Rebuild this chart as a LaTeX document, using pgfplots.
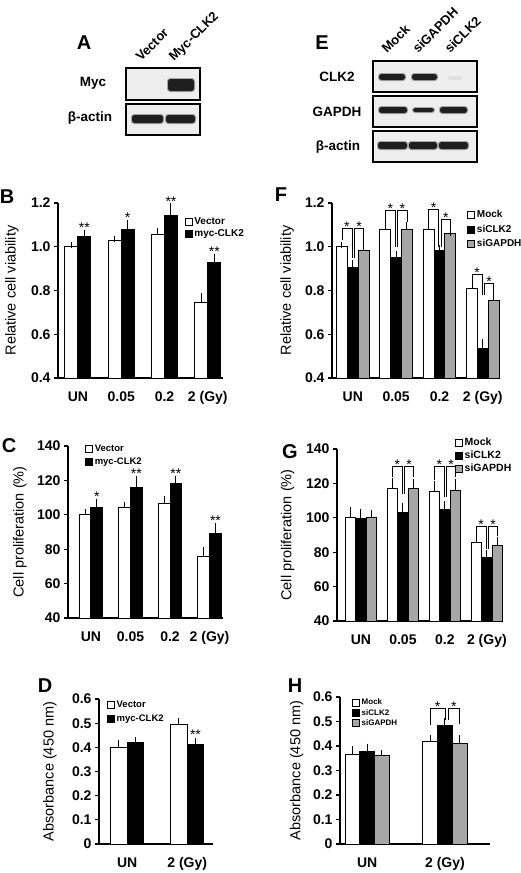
\documentclass[border=0pt]{standalone}
\usepackage{pgfplots}
\pgfplotsset{compat=1.18}
\usepackage{fontspec}
\setmainfont{Liberation Sans}
\definecolor{bargray}{RGB}{166,166,166}
\definecolor{blotbg}{RGB}{238,238,238}
\newcommand{\fs}[1]{\fontsize{#1}{#1}\selectfont}
\tikzset{star/.style={font=\fs{14}, anchor=base, inner sep=0pt}}
\pgfplotsset{
  panel/.style={
    scale only axis, anchor=south west,
    axis x line*=bottom, axis y line*=left,
    axis line style={line width=1.2pt},
    ybar=0pt,
    tick align=outside,
    major tick length=4pt,
    ytick style={line width=1.1pt, black},
    xtick style={draw=none},
    tick label style={font=\fs{14}\bfseries},
    xticklabel style={yshift=-6pt},
    /pgf/number format/assume math mode=true,
    ylabel style={font=\fs{14.5}, anchor=center},
    clip=false,
    legend image code/.code={\draw[#1,/tikz/.cd,line width=0.7pt,draw=black] (0pt,-3.5pt) rectangle (7pt,3.5pt);},
    legend cell align=left,
    legend style={draw=none, fill=none, anchor=north west, inner sep=0pt, outer sep=0pt},
    error bars/y dir=plus, error bars/y explicit,
    error bars/error bar style={line width=1pt, black},
    error bars/error mark options={mark size=3pt, line width=1pt, black},
  },
  wbar/.style={fill=white, draw=black, line width=1pt},
  kbar/.style={fill=black, draw=black, line width=1pt},
  gbar/.style={fill=bargray, draw=black, line width=1pt},
}
% bracket: x1 x2 top y1 y2 xmid
\newcommand{\brk}[6]{%
  \draw[line width=0.8pt] (axis cs:#1,#4) -- (axis cs:#1,#3) -- (axis cs:#2,#3) -- (axis cs:#2,#5);
  \node[star,yshift=-3pt] at (axis cs:#6,#3) {*};}
\newcommand{\band}[5][black!88]{% [color] x1 x2 y1 y2
  \fill[black!35,rounded corners=3pt] (#2-1,#4-1) rectangle (#3+1,#5+1);
  \fill[#1,rounded corners=2.5pt] (#2,#4) rectangle (#3,#5);}
\begin{document}
\begin{tikzpicture}
% ---------------- blots ----------------
\begin{scope}[x=1pt,y=-1pt]
  % panel A
  \node[font=\fs{20}\bfseries, inner sep=0pt] at (84,43) {A};
  \node[font=\fs{13.5}\bfseries, inner sep=0pt] at (93,83) {Myc};
  \node[font=\fs{13.5}\bfseries, inner sep=0pt] at (90,118) {β-actin};
  \node[font=\fs{13}\bfseries, inner sep=0pt, rotate=45, anchor=base west] at (141,62) {Vector};
  \node[font=\fs{13}\bfseries, inner sep=0pt, rotate=45, anchor=base west] at (174,62) {Myc-CLK2};
  \draw[line width=1.2pt, fill=blotbg] (126,68) rectangle (200,100);
  \draw[line width=1.2pt, fill=blotbg] (126,104) rectangle (200,135);
  \band{168}{194}{79}{91}
  \band{132}{163}{115}{123}
  \band{166}{195}{115}{123}
  % panel E
  \node[font=\fs{20}\bfseries, inner sep=0pt] at (322,43) {E};
  \node[font=\fs{13.5}\bfseries, inner sep=0pt] at (337,77) {CLK2};
  \node[font=\fs{13.5}\bfseries, inner sep=0pt] at (337,112) {GAPDH};
  \node[font=\fs{13.5}\bfseries, inner sep=0pt] at (338,147) {β-actin};
  \node[font=\fs{13}\bfseries, inner sep=0pt, rotate=45, anchor=base west] at (387,54) {Mock};
  \node[font=\fs{13}\bfseries, inner sep=0pt, rotate=45, anchor=base west] at (418,54) {siGAPDH};
  \node[font=\fs{13}\bfseries, inner sep=0pt, rotate=45, anchor=base west] at (450,54) {siCLK2};
  \draw[line width=1.2pt, fill=blotbg] (373,61) rectangle (477,92);
  \draw[line width=1.2pt, fill=blotbg] (373,96) rectangle (477,127);
  \draw[line width=1.2pt, fill=blotbg] (373,131) rectangle (477,162);
  \band{379}{405}{74}{80}
  \band{412}{437}{74}{80}
  \fill[black!12,rounded corners=2pt] (448,76) rectangle (462,80);
  \band{379}{407}{107}{113}
  \band{413}{434}{108}{112}
  \band{440}{467}{107}{113}
  \band{378}{407}{142}{149}
  \band{409}{437}{142}{149}
  \band{439}{468}{142}{149}
  % panel letters
  \node[font=\fs{20}\bfseries, inner sep=0pt] at (7,197) {B};
  \node[font=\fs{20}\bfseries, inner sep=0pt] at (281,195) {F};
  \node[font=\fs{20}\bfseries, inner sep=0pt] at (9,446) {C};
  \node[font=\fs{20}\bfseries, inner sep=0pt] at (290,452) {G};
  \node[font=\fs{20}\bfseries, inner sep=0pt] at (45,686) {D};
  \node[font=\fs{20}\bfseries, inner sep=0pt] at (295,686) {H};
\end{scope}

% ---------------- B ----------------
\begin{axis}[panel, at={(58pt,-378pt)}, width=164.5pt, height=175pt,
  xmin=-0.46, xmax=3.34, ymin=0.4, ymax=1.2, bar width=0.3,
  ytick={0.4,0.6,0.8,1.0,1.2},
  yticklabel style={/pgf/number format/.cd, fixed, fixed zerofill, precision=1},
  xtick={0,1,2,3}, xticklabels={UN,0.05,0.2,2 (Gy)},
  ylabel={Relative cell viability},
  ylabel style={at={(axis description cs:-0.28,0.5)}},
  legend style={at={(axis description cs:0.77,0.93)}, font=\fs{10}\bfseries, row sep=0pt}]
\addplot[wbar] coordinates {(0,1.00) +- (0,0.006) (1,1.03) +- (0,0.007) (2,1.055) +- (0,0.015) (3,0.745) +- (0,0.028)};
\addplot[kbar] coordinates {(0,1.045) +- (0,0.02) (1,1.08) +- (0,0.03) (2,1.145) +- (0,0.04) (3,0.93) +- (0,0.025)};
\legend{Vector, myc-CLK2}
\node[star] at (axis cs:0.15,1.065) {**};
\node[star] at (axis cs:1.15,1.11) {*};
\node[star] at (axis cs:2.15,1.185) {**};
\node[star] at (axis cs:3.15,0.955) {**};
\end{axis}

% ---------------- F ----------------
\begin{axis}[panel, at={(332pt,-378pt)}, width=166pt, height=175pt,
  xmin=-0.48, xmax=3.35, ymin=0.4, ymax=1.2, bar width=0.25,
  ytick={0.4,0.6,0.8,1.0,1.2},
  yticklabel style={/pgf/number format/.cd, fixed, fixed zerofill, precision=1},
  xtick={0,1,2,3}, xticklabels={UN,0.05,0.2,2 (Gy)},
  ylabel={Relative cell viability},
  ylabel style={at={(axis description cs:-0.27,0.5)}},
  legend style={at={(axis description cs:0.815,0.97)}, font=\fs{10}\bfseries, row sep=2pt}]
\addplot[wbar] coordinates {(0,1.00) +- (0,0.01) (1,1.08) +- (0,0.03) (2,1.08) +- (0,0.035) (3,0.81) +- (0,0.02)};
\addplot[kbar] coordinates {(0,0.905) +- (0,0.02) (1,0.95) +- (0,0.015) (2,0.985) +- (0,0.01) (3,0.535) +- (0,0.03)};
\addplot[gbar] coordinates {(0,0.985) +- (0,0.035) (1,1.08) +- (0,0.02) (2,1.06) +- (0,0.005) (3,0.755) +- (0,0.015)};
\legend{Mock, siCLK2, siGAPDH}
\brk{-0.25}{-0.02}{1.085}{1.03}{0.95}{-0.135}
\brk{0.04}{0.25}{1.085}{0.95}{1.035}{0.145}
\brk{0.75}{0.98}{1.165}{1.118}{1.0}{0.865}
\brk{1.04}{1.25}{1.165}{1.0}{1.112}{1.145}
\brk{1.75}{1.98}{1.17}{1.125}{1.0}{1.865}
\brk{2.04}{2.25}{1.123}{1.0}{1.075}{2.145}
\brk{2.75}{2.98}{0.873}{0.84}{0.78}{2.865}
\brk{3.04}{3.25}{0.832}{0.78}{0.785}{3.145}
\end{axis}

% ---------------- C ----------------
\begin{axis}[panel, at={(68pt,-618pt)}, width=155pt, height=172pt,
  xmin=-0.58, xmax=3.34, ymin=40, ymax=140, bar width=0.3,
  ytick={40,60,80,100,120,140},
  xtick={0,1,2,3}, xticklabels={UN,0.05,0.2,2 (Gy)},
  ylabel={Cell proliferation (\%)},
  ylabel style={at={(axis description cs:-0.31,0.5)}},
  legend style={at={(axis description cs:0.11,1.02)}, font=\fs{9.5}\bfseries, row sep=1pt}]
\addplot[wbar] coordinates {(0,100) +- (0,1.5) (1,104) +- (0,1.8) (2,106.5) +- (0,2.5) (3,75.5) +- (0,3.8)};
\addplot[kbar] coordinates {(0,104.3) +- (0,3.3) (1,116) +- (0,5) (2,118) +- (0,3) (3,89) +- (0,4.7)};
\legend{Vector, myc-CLK2}
\node[star] at (axis cs:0.15,107.6) {*};
\node[star] at (axis cs:1.15,121) {**};
\node[star] at (axis cs:2.15,121) {**};
\node[star] at (axis cs:3.15,93.7) {**};
\end{axis}

% ---------------- G ----------------
\begin{axis}[panel, at={(337pt,-621pt)}, width=165pt, height=172pt,
  xmin=-0.57, xmax=3.36, ymin=40, ymax=140, bar width=0.25,
  ytick={40,60,80,100,120,140},
  xtick={0,1,2,3}, xticklabels={UN,0.05,0.2,2 (Gy)},
  ylabel={Cell proliferation (\%)},
  ylabel style={at={(axis description cs:-0.30,0.5)}},
  legend style={at={(axis description cs:0.715,1.075)}, font=\fs{10.5}\bfseries, row sep=0pt}]
\addplot[wbar] coordinates {(0,100) +- (0,4.7) (1,117) +- (0,4.2) (2,115.5) +- (0,4) (3,85.5) +- (0,2.8)};
\addplot[kbar] coordinates {(0,99.4) +- (0,4) (1,103) +- (0,4) (2,105) +- (0,3) (3,76.7) +- (0,2.8)};
\addplot[gbar] coordinates {(0,100) +- (0,2.7) (1,116.8) +- (0,4.2) (2,116) +- (0,5) (3,83.8) +- (0,3.2)};
\legend{Mock, siCLK2, siGAPDH}
\brk{0.75}{0.98}{129.6}{124}{114}{0.865}
\brk{1.04}{1.25}{129.6}{114}{124}{1.145}
\brk{1.75}{1.98}{129.6}{122}{112}{1.865}
\brk{2.04}{2.25}{129.6}{112}{124}{2.145}
\brk{2.75}{2.98}{94.8}{89}{82}{2.865}
\brk{3.04}{3.25}{94.8}{82}{89.5}{3.145}
\end{axis}

% ---------------- D ----------------
\begin{axis}[panel, at={(99pt,-844pt)}, width=114pt, height=145pt,
  xmin=-0.47, xmax=1.43, ymin=0, ymax=0.6, bar width=0.275,
  ytick={0,0.1,0.2,0.3,0.4,0.5,0.6},
  yticklabel style={/pgf/number format/.cd, fixed, precision=1},
  xtick={0,1}, xticklabels={UN,2 (Gy)},
  ylabel={Absorbance (450 nm)},
  ylabel style={at={(axis description cs:-0.43,0.5)}},
  legend style={at={(axis description cs:0.07,1.0)}, font=\fs{9.5}\bfseries, row sep=2pt}]
\addplot[wbar] coordinates {(0,0.40) +- (0,0.019) (1,0.495) +- (0,0.015)};
\addplot[kbar] coordinates {(0,0.418) +- (0,0.014) (1,0.413) +- (0,0.015)};
\legend{Vector, myc-CLK2}
\node[star,yshift=1pt] at (axis cs:1.1375,0.428) {**};
\end{axis}

% ---------------- H ----------------
\begin{axis}[panel, at={(340pt,-844pt)}, width=150pt, height=147pt,
  xmin=-0.35, xmax=1.58, ymin=0, ymax=0.6, bar width=0.19,
  ytick={0,0.1,0.2,0.3,0.4,0.5,0.6},
  yticklabel style={/pgf/number format/.cd, fixed, precision=1},
  xtick={0,1}, xticklabels={UN,2 (Gy)},
  ylabel={Absorbance (450 nm)},
  ylabel style={at={(axis description cs:-0.29,0.5)}},
  legend style={at={(axis description cs:0.08,1.0)}, font=\fs{8}\bfseries, row sep=-1pt}]
\addplot[wbar] coordinates {(0,0.364) +- (0,0.023) (1,0.419) +- (0,0.013)};
\addplot[kbar] coordinates {(0,0.378) +- (0,0.02) (1,0.483) +- (0,0.02)};
\addplot[gbar] coordinates {(0,0.36) +- (0,0.011) (1,0.412) +- (0,0.02)};
\legend{Mock, siCLK2, siGAPDH}
\brk{0.81}{1.0}{0.555}{0.486}{0.506}{0.905}
\brk{1.04}{1.19}{0.555}{0.506}{0.49}{1.115}
\end{axis}

\pgfresetboundingbox
\path[use as bounding box] (0pt,0pt) rectangle (520pt,-873pt);
\end{tikzpicture}
\end{document}
